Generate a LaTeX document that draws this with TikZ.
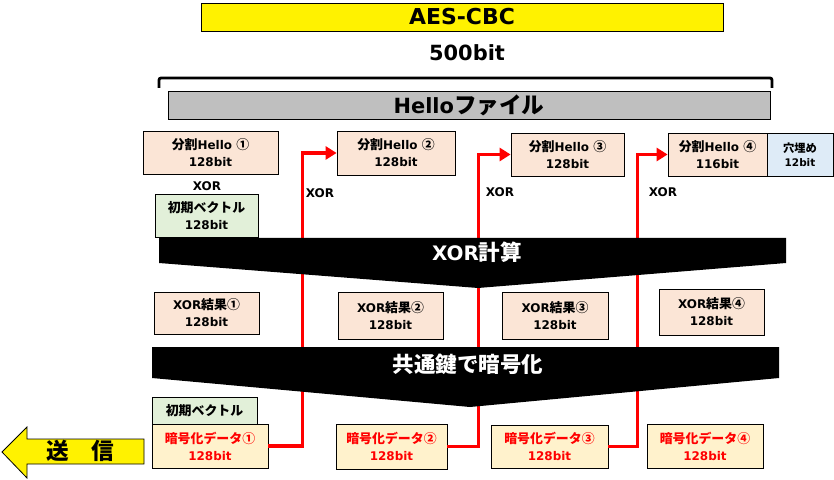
\documentclass[tikz,border=0pt]{standalone}
\usepackage{fontspec}
\setmainfont{DejaVu Sans}
\newfontfamily\jpfont{Noto Sans CJK JP}[Scale=1.08]
\newcommand{\jp}[1]{{\jpfont #1}}
\usetikzlibrary{arrows.meta}
\definecolor{peche}{HTML}{FBE5D6}
\definecolor{vertpale}{HTML}{E2F0D9}
\definecolor{bleupale}{HTML}{DEEBF7}
\definecolor{jaunepale}{HTML}{FFF2CC}
\definecolor{gris}{HTML}{BFBFBF}
\begin{document}
\begin{tikzpicture}[x=1bp,y=-1bp]
\tikzset{boite/.style={draw, line width=0.8bp, inner sep=0pt, align=center, font=\bfseries\fontsize{12}{17}\selectfont}}
\tikzset{rouge/.style={draw=red, line width=3.5bp}}
\tikzset{etiquette/.style={font=\bfseries\fontsize{12}{13}\selectfont}}
\useasboundingbox (0,0) rectangle (834,480);
\node[boite, fill=yellow, minimum width=522bp, minimum height=28bp, font=\bfseries\fontsize{22}{26}\selectfont] (T) at (462,17) {AES-CBC};
\node[font=\bfseries\fontsize{21}{24}\selectfont] (L) at (467,53) {500bit};
\draw[line width=2.8bp, rounded corners=2bp] (159,88) -- (159,78) -- (772,78) -- (772,88);
\node[boite, fill=gris, minimum width=602bp, minimum height=28bp, font=\bfseries\fontsize{21}{24}\selectfont] (F) at (469,105) {Hello\jp{ファイル}};
\node[boite, fill=peche, minimum width=135bp, minimum height=43bp] (H1) at (210.5,152.5) {\jp{分割}Hello \jp{①}\\128bit};
\node[boite, fill=peche, minimum width=118bp, minimum height=44bp] (H2) at (396,153) {\jp{分割}Hello \jp{②}\\128bit};
\node[boite, fill=peche, minimum width=113bp, minimum height=43bp] (H3) at (567.5,154.5) {\jp{分割}Hello \jp{③}\\128bit};
\node[boite, fill=peche, minimum width=99bp, minimum height=43bp] (H4) at (717.5,154.5) {\jp{分割}Hello \jp{④}\\116bit};
\node[boite, fill=bleupale, minimum width=66bp, minimum height=43bp, font=\bfseries\fontsize{10.5}{14}\selectfont] (P) at (800,154.5) {\jp{穴埋め}\\12bit};
\node[etiquette] (X1) at (207,186) {XOR};
\node[etiquette] (X2) at (320,193) {XOR};
\node[etiquette] (X3) at (500,192) {XOR};
\node[etiquette] (X4) at (663,192) {XOR};
\node[boite, fill=vertpale, minimum width=103bp, minimum height=43bp] (V1) at (206.5,215.5) {\jp{初期ベクトル}\\128bit};
\node[boite, fill=peche, minimum width=105bp, minimum height=42bp] (R1) at (206.5,313) {XOR\jp{結果①}\\128bit};
\node[boite, fill=peche, minimum width=105bp, minimum height=47bp] (R2) at (390.5,315.5) {XOR\jp{結果②}\\128bit};
\node[boite, fill=peche, minimum width=106bp, minimum height=47bp] (R3) at (555,315.5) {XOR\jp{結果③}\\128bit};
\node[boite, fill=peche, minimum width=105bp, minimum height=46bp] (R4) at (711.5,312) {XOR\jp{結果④}\\128bit};
\node[boite, fill=vertpale, minimum width=105bp, minimum height=28bp] (V2) at (204.5,411) {\jp{初期ベクトル}};
\node[boite, fill=jaunepale, text=red, minimum width=116bp, minimum height=44bp] (E1) at (210,446) {\jp{暗号化データ①}\\128bit};
\node[boite, fill=jaunepale, text=red, minimum width=111bp, minimum height=45bp] (E2) at (391.5,446.5) {\jp{暗号化データ②}\\128bit};
\node[boite, fill=jaunepale, text=red, minimum width=117bp, minimum height=43bp] (E3) at (549.5,446.5) {\jp{暗号化データ③}\\128bit};
\node[boite, fill=jaunepale, text=red, minimum width=116bp, minimum height=44bp] (E4) at (705,446) {\jp{暗号化データ④}\\128bit};
% chainage
\draw[rouge, -{Triangle[length=11bp,width=13bp]}] (E1.east) -- ++(34,0) |- (H2.west);
\draw[rouge, -{Triangle[length=11bp,width=13bp]}] (E2.east) -- ++(31,0) |- (H3.west);
\draw[rouge, -{Triangle[length=11bp,width=13bp]}] (E3.east) -- ++(29,0) |- (H4.west);
% entonnoirs
\fill (159,238) -- (786,238) -- (786,263) -- (478,288) -- (159,263) -- cycle;
\node[text=white, font=\bfseries\fontsize{20}{24}\selectfont] (C1) at (477,252) {XOR\jp{計算}};
\fill (152,347) -- (779,347) -- (779,378) -- (470,407) -- (152,378) -- cycle;
\node[text=white, font=\bfseries\fontsize{20}{24}\selectfont] (C2) at (468,364) {\jp{共通鍵で暗号化}};
% envoi
\filldraw[fill=yellow, draw=black, line width=0.8bp] (2,452) -- (27,427) -- (27,439) -- (144,439) -- (144,464) -- (27,464) -- (27,478) -- cycle;
\node[font=\bfseries\fontsize{21}{24}\selectfont] (S) at (80,451) {\jp{送　信}};
\end{tikzpicture}
\end{document}
